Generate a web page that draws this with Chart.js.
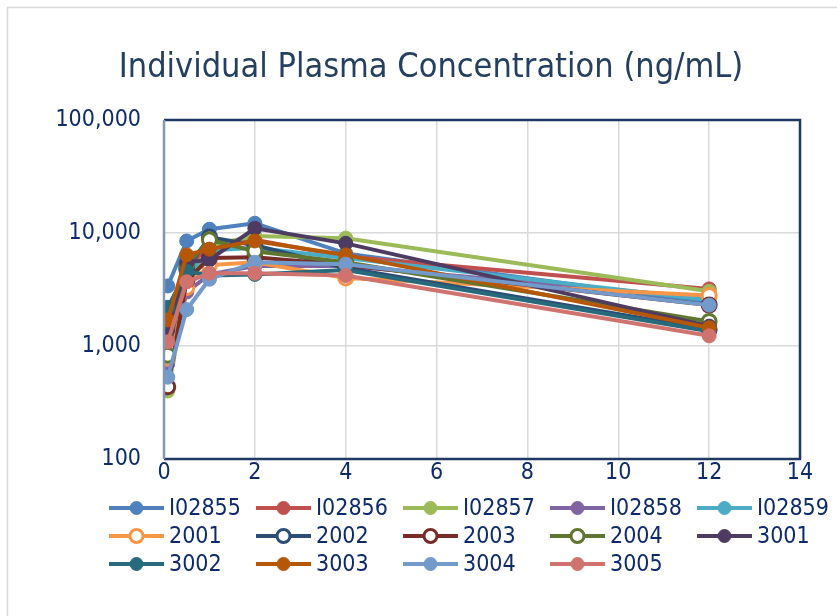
<!DOCTYPE html>
<html>
<head>
<meta charset="utf-8">
<script src="https://cdn.jsdelivr.net/npm/chart.js@4"></script>
<style>
  html, body { margin: 0; padding: 0; background: #fff; }
  #wrap { width: 837px; height: 616px; }
</style>
</head>
<body>
<div id="wrap"><canvas id="chart" width="837" height="616"></canvas></div>
<script>
// sampling times (h)
const times = [0.083, 0.5, 1, 2, 4, 12];

const subjects = ["I02855", "I02856", "I02857", "I02858", "I02859",
                  "2001", "2002", "2003", "2004", "3001",
                  "3002", "3003", "3004", "3005"];

// plasma concentration, ng/mL
const s_I02855 = [3400, 8500, 10800, 12200, 6600, 2400];
const s_I02856 = [1100, 5000, 7500, 8700, 6200, 3200];
const s_I02857 = [400, 3200, 7800, 9400, 9000, 3050];
const s_I02858 = [700, 3000, 4300, 5100, 5100, 2650];
const s_I02859 = [900, 4200, 7000, 7400, 6000, 2550];
const s_2001 = [780, 3300, 5200, 5500, 4000, 2800];
const s_2002 = [960, 4800, 9200, 7800, 4900, 1400];
const s_2003 = [435, 3800, 6000, 6100, 5200, 2300];
const s_2004 = [830, 5200, 8700, 6900, 5500, 1650];
const s_3001 = [1390, 5500, 5800, 11000, 8100, 1500];
const s_3002 = [2200, 4600, 4200, 4300, 4700, 1350];
const s_3003 = [1700, 6400, 7200, 8500, 6400, 1450];
const s_3004 = [530, 2100, 3900, 5500, 5300, 2300];
const s_3005 = [1090, 3700, 4400, 4400, 4200, 1230];

const seriesValues = [s_I02855, s_I02856, s_I02857, s_I02858, s_I02859,
                      s_2001, s_2002, s_2003, s_2004, s_3001,
                      s_3002, s_3003, s_3004, s_3005];

const xTicks = [0, 2, 4, 6, 8, 10, 12, 14];
const yTicks = [100, 1000, 10000, 100000];

const colors = ["#4F81BD", "#C0504D", "#9BBB59", "#8064A2", "#4BACC6",
                "#F79646", "#2C4D75", "#772C2A", "#5F7530", "#4D3B62",
                "#276A7C", "#B65708", "#729ACA", "#D0736F"];
const openMarker = [false, false, false, false, false,
                    true, true, true, true, false,
                    false, false, false, false];

const TITLE = "Individual Plasma Concentration (ng/mL)";
const NAVY = "#1F3864";
const TXT = "#0D2A6B";
const NARROW = "'Liberation Sans Narrow', 'Arial Narrow', 'DejaVu Sans Condensed', sans-serif";

const datasets = subjects.map((name, i) => ({
    label: name,
    data: times.map((t, k) => ({ x: t, y: seriesValues[i][k] })),
    borderColor: colors[i],
    backgroundColor: colors[i],
    pointBackgroundColor: openMarker[i] ? "#ffffff" : colors[i],
    pointBorderColor: colors[i],
    pointBorderWidth: openMarker[i] ? 3 : 1,
    pointRadius: 7,
    borderWidth: 4,
    tension: 0,
    order: subjects.length - i
}));

// white background, outer chart box, title and plot frame
const framePlugin = {
    id: "frame",
    beforeDraw(chart) {
        const ctx = chart.ctx;
        ctx.save();
        ctx.fillStyle = "#fff";
        ctx.fillRect(0, 0, chart.width, chart.height);
        ctx.strokeStyle = "#D9D9D9";
        ctx.lineWidth = 1.5;
        ctx.strokeRect(7.5, 7.5, chart.width + 20, chart.height + 20);
        ctx.fillStyle = "#243F60";
        ctx.font = "34px " + NARROW;
        ctx.textAlign = "center";
        ctx.textBaseline = "middle";
        ctx.fillText(TITLE, 431, 68);
        ctx.restore();
    },
    afterDatasetsDraw(chart) {
        const a = chart.chartArea;
        const ctx = chart.ctx;
        ctx.save();
        ctx.lineWidth = 2.5;
        ctx.strokeStyle = NAVY;
        ctx.beginPath();
        ctx.moveTo(a.left, a.top);
        ctx.lineTo(a.right, a.top);
        ctx.lineTo(a.right, a.bottom);
        ctx.lineTo(a.left, a.bottom);
        ctx.stroke();
        ctx.strokeStyle = "#8497B0";
        ctx.beginPath();
        ctx.moveTo(a.left, a.top);
        ctx.lineTo(a.left, a.bottom);
        ctx.stroke();
        ctx.restore();
    }
};

// legend laid out in fixed columns like the original
const gridLegend = {
    id: "gridLegend",
    afterDraw(chart) {
        const ctx = chart.ctx;
        const x0 = 109, colW = 147, y0 = 508, rowH = 28, cols = 5;
        ctx.save();
        ctx.font = "23px " + NARROW;
        ctx.textBaseline = "middle";
        chart.data.datasets.forEach((ds, i) => {
            const x = x0 + (i % cols) * colW;
            const y = y0 + Math.floor(i / cols) * rowH;
            ctx.strokeStyle = ds.borderColor;
            ctx.lineWidth = 4;
            ctx.beginPath();
            ctx.moveTo(x, y);
            ctx.lineTo(x + 55, y);
            ctx.stroke();
            ctx.beginPath();
            ctx.arc(x + 27.5, y, 6.5, 0, Math.PI * 2);
            ctx.fillStyle = ds.pointBackgroundColor;
            ctx.fill();
            ctx.lineWidth = ds.pointBorderWidth;
            ctx.strokeStyle = ds.pointBorderColor;
            ctx.stroke();
            ctx.fillStyle = TXT;
            ctx.fillText(ds.label, x + 60, y + 1);
        });
        ctx.restore();
    }
};

new Chart(document.getElementById("chart"), {
    type: "line",
    data: { datasets },
    plugins: [framePlugin, gridLegend],
    options: {
        responsive: false,
        animation: false,
        layout: { padding: { left: 0, right: 37, top: 120, bottom: 0 } },
        plugins: {
            legend: { display: false },
            tooltip: { enabled: false },
            title: { display: false }
        },
        scales: {
            x: {
                type: "linear",
                min: 0,
                max: 14,
                afterBuildTicks: s => { s.ticks = xTicks.map(v => ({ value: v })); },
                afterFit: s => { s.height = 157; },
                grid: { color: "#D9D9D9", lineWidth: 1.5, drawTicks: false },
                border: { display: false },
                ticks: { color: TXT, padding: 0, font: { family: NARROW, size: 23 } }
            },
            y: {
                type: "logarithmic",
                min: 100,
                max: 100000,
                afterBuildTicks: s => { s.ticks = yTicks.map(v => ({ value: v })); },
                afterFit: s => { s.width = 164; },
                grid: { color: "#D9D9D9", lineWidth: 1.5, drawTicks: false },
                border: { display: false },
                ticks: {
                    color: TXT,
                    padding: 23,
                    font: { family: NARROW, size: 23 },
                    callback: v => Number(v).toLocaleString("en-US")
                }
            }
        }
    }
});
</script>
</body>
</html>
